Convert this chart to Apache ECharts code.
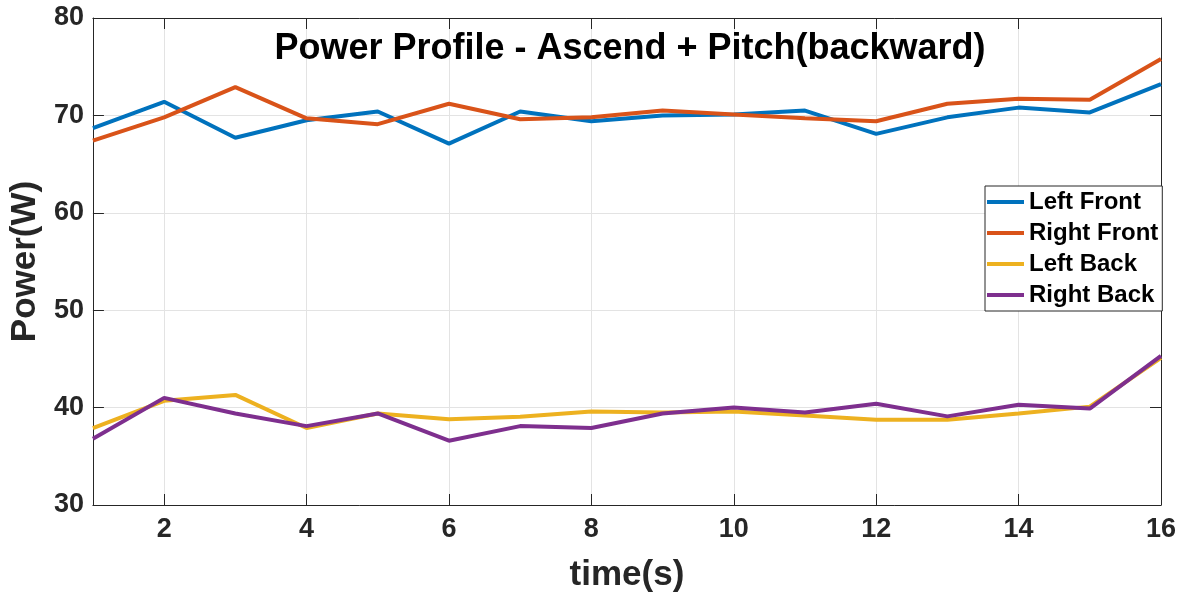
<!DOCTYPE html>
<html>
<head>
<meta charset="utf-8">
<title>Power Profile</title>
<script src="https://cdn.jsdelivr.net/npm/echarts@6/dist/echarts.min.js"></script>
<style>
  html, body { margin: 0; padding: 0; background: #ffffff; }
  #chart { width: 1187px; height: 598px; }
</style>
</head>
<body>
<div id="chart"></div>
<script>
// Time samples (s) and measured motor power (W)
const timeSteps = ['1', '2', '3', '4', '5', '6', '7', '8', '9', '10', '11', '12', '13', '14', '15', '16'];
const leftFront  = [68.7, 71.4, 67.7, 69.5, 70.4, 67.1, 70.4, 69.4, 70.0, 70.1, 70.5, 68.1, 69.8, 70.8, 70.3, 73.2];
const rightFront = [67.4, 69.8, 72.9, 69.7, 69.1, 71.2, 69.6, 69.8, 70.5, 70.1, 69.7, 69.4, 71.2, 71.7, 71.6, 75.8];
const leftBack   = [37.9, 40.7, 41.3, 37.9, 39.4, 38.8, 39.05, 39.6, 39.5, 39.6, 39.2, 38.75, 38.75, 39.4, 40.1, 45.1];
const rightBack  = [36.8, 41.0, 39.4, 38.1, 39.4, 36.6, 38.1, 37.9, 39.4, 40.0, 39.5, 40.4, 39.1, 40.3, 39.9, 45.3];
const seriesNames = ['Left Front', 'Right Front', 'Left Back', 'Right Back'];
const yTicks = { min: 30, max: 80, step: 10 };

const FONT = "'Liberation Sans', Arial, Helvetica, sans-serif";
const AXIS_COLOR = '#262626';
const evenTick = (idx) => (idx + 1) % 2 === 0;

const chart = echarts.init(document.getElementById('chart'), null, { renderer: 'canvas' });

const baseX = {
  type: 'category',
  data: timeSteps,
  boundaryGap: false,
  axisLine: { show: true, lineStyle: { color: AXIS_COLOR, width: 1 } },
  axisTick: { show: true, inside: true, length: 11, interval: evenTick, lineStyle: { color: AXIS_COLOR } }
};
const baseY = {
  type: 'value',
  min: yTicks.min,
  max: yTicks.max,
  interval: yTicks.step,
  axisLine: { show: true, lineStyle: { color: AXIS_COLOR, width: 1 } },
  axisTick: { show: true, inside: true, length: 11, lineStyle: { color: AXIS_COLOR } }
};

const lines = [leftFront, rightFront, leftBack, rightBack];
const colors = ['#0072BD', '#D95319', '#EDB120', '#7E2F8E'];

chart.setOption({
  animation: false,
  backgroundColor: '#ffffff',
  color: colors,
  title: {
    text: 'Power Profile - Ascend + Pitch(backward)',
    left: 625,
    top: 26,
    textAlign: 'center',
    textStyle: { fontFamily: FONT, fontWeight: 'bold', fontSize: 36, color: '#000000' }
  },
  grid: { left: 88, right: 26, top: 18, bottom: 90, containLabel: false },
  legend: {
    data: seriesNames,
    orient: 'vertical',
    left: 985,
    top: 186,
    icon: 'rect',
    itemWidth: 37,
    itemHeight: 4,
    itemGap: 7,
    padding: [4, 4, 4, 2],
    backgroundColor: '#ffffff',
    borderColor: AXIS_COLOR,
    borderWidth: 1,
    textStyle: { fontFamily: FONT, fontWeight: 'bold', fontSize: 24, lineHeight: 24, color: '#000000' }
  },
  xAxis: [
    Object.assign({}, baseX, {
      position: 'bottom',
      name: 'time(s)',
      nameLocation: 'middle',
      nameGap: 53,
      nameTextStyle: { fontFamily: FONT, fontWeight: 'bold', fontSize: 35, color: AXIS_COLOR },
      axisLabel: { show: true, interval: evenTick, margin: 11, fontFamily: FONT, fontWeight: 'bold', fontSize: 27, color: AXIS_COLOR },
      splitLine: { show: true, interval: evenTick, lineStyle: { color: '#e3e3e3', width: 1 } }
    }),
    Object.assign({}, baseX, {
      position: 'top',
      axisLabel: { show: false },
      splitLine: { show: false }
    })
  ],
  yAxis: [
    Object.assign({}, baseY, {
      position: 'left',
      name: 'Power(W)',
      nameLocation: 'middle',
      nameRotate: 90,
      nameGap: 42,
      nameTextStyle: { fontFamily: FONT, fontWeight: 'bold', fontSize: 35, color: AXIS_COLOR },
      axisLabel: { show: true, margin: 9, fontFamily: FONT, fontWeight: 'bold', fontSize: 27, color: AXIS_COLOR },
      splitLine: { show: true, lineStyle: { color: '#e3e3e3', width: 1 } }
    }),
    Object.assign({}, baseY, {
      position: 'right',
      axisLabel: { show: false },
      splitLine: { show: false }
    })
  ],
  series: lines.map((values, i) => ({
    name: seriesNames[i],
    type: 'line',
    data: values,
    xAxisIndex: 0,
    yAxisIndex: 0,
    showSymbol: false,
    symbol: 'none',
    smooth: false,
    lineStyle: { width: 4, color: colors[i] },
    itemStyle: { color: colors[i] },
    emphasis: { disabled: true }
  }))
});
</script>
</body>
</html>
